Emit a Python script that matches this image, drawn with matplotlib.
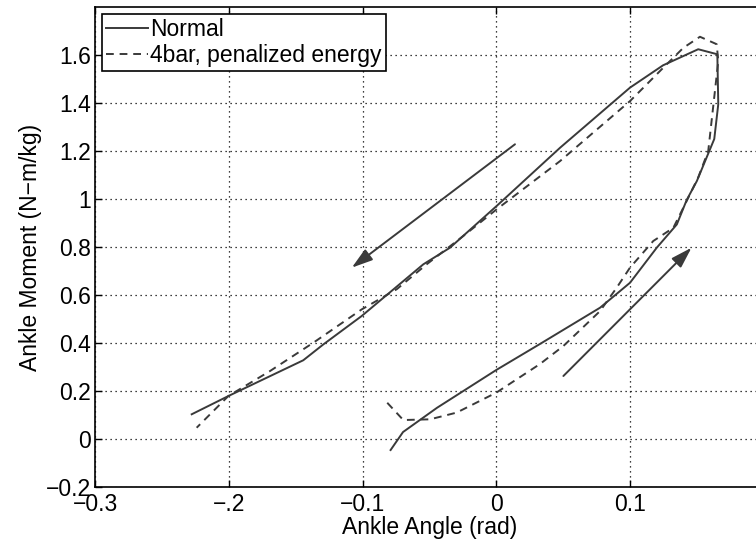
import matplotlib
matplotlib.use("Agg")
import matplotlib.pyplot as plt

plt.rcParams['font.family'] = ['Liberation Sans', 'DejaVu Sans']

# Normal gait (solid)
normal_x = [-0.079, -0.0697, -0.0443, 0.0, 0.0327, 0.0776, 0.100, 0.120, 0.135, 0.1424,
            0.150, 0.163, 0.166, 0.1653, 0.151, 0.1247, 0.100, 0.0478, 0.0003, -0.0346,
            -0.0545, -0.1006, -0.1293, -0.1443, -0.2003, -0.2277]
normal_y = [-0.046, 0.029, 0.13, 0.2875, 0.396, 0.547, 0.651, 0.797, 0.894, 0.996,
            1.075, 1.25, 1.395, 1.603, 1.624, 1.557, 1.464, 1.214, 0.971, 0.797,
            0.728, 0.5125, 0.394, 0.328, 0.179, 0.103]

# 4bar, penalized energy (dashed)
bar_x = [-0.0815, -0.0695, -0.0495, -0.0296, 0.0, 0.0327, 0.0502, 0.0776, 0.090, 0.100,
         0.1174, 0.1324, 0.1424, 0.151, 0.1585, 0.166, 0.1648, 0.1523, 0.1399, 0.1274,
         0.100, 0.0477, 0.0003, -0.0246, -0.052, -0.0744, -0.1006, -0.1368, -0.1692,
         -0.2003, -0.224]
bar_y = [0.151, 0.079, 0.082, 0.11, 0.193, 0.3125, 0.3875, 0.533, 0.63, 0.714,
         0.825, 0.88, 0.992, 1.09, 1.2, 1.575, 1.645, 1.676, 1.63, 1.561,
         1.408, 1.158, 0.957, 0.846, 0.728, 0.624, 0.54, 0.401, 0.283,
         0.179, 0.047]

# direction arrows: (tail, head)
arrow_down = ((0.014, 1.228), (-0.108, 0.714))
arrow_up = ((0.0502, 0.2625), (0.146, 0.797))

xticks = [-0.3, -0.2, -0.1, 0, 0.1, 0.2]
xticklabels = ['\u22120.3', '\u2212.2', '\u22120.1', '0', '0.1', '']
yticks = [-0.2, 0, 0.2, 0.4, 0.6, 0.8, 1.0, 1.2, 1.4, 1.6]
yticklabels = ['\u22120.2', '0', '0.2', '0.4', '0.6', '0.8', '1', '1.2', '1.4', '1.6']

col = '#3a3a3a'
fig = plt.figure(figsize=(7.56, 5.47), dpi=100)
ax = fig.add_axes([95 / 756, 1 - 487 / 547, (763.75 - 95) / 756, 480 / 547])

ax.plot(normal_x, normal_y, '-', color=col, lw=1.4, label='Normal')
ax.plot(bar_x, bar_y, '--', color=col, lw=1.4, dashes=(4, 3), label='4bar, penalized energy')

for tail, head in (arrow_down, arrow_up):
    ax.annotate('', xy=head, xytext=tail,
                arrowprops=dict(arrowstyle='-|>,head_length=0.8,head_width=0.25', color=col,
                                lw=1.4, mutation_scale=16, shrinkA=0, shrinkB=0))

ax.set_xlim(-0.3, 0.2)
ax.set_ylim(-0.2, 1.8)
ax.set_xticks(xticks)
ax.set_xticklabels(xticklabels)
ax.set_yticks(yticks)
ax.set_yticklabels(yticklabels)
ax.tick_params(direction='in', length=5, width=1, labelsize=16.5, top=True, right=True, pad=3)
ax.tick_params(axis='x', pad=4)
ax.grid(True, color='black', linestyle=(0, (1, 3)), linewidth=0.9)
for s in ax.spines.values():
    s.set_linewidth(1.2)

ax.set_xlabel('Ankle Angle (rad)', fontsize=16.5, labelpad=0)
ax.set_ylabel('Ankle Moment (N\u2212m/kg)', fontsize=16.5, labelpad=3)

leg = ax.legend(loc='upper left', fontsize=16.5, handlelength=1.8, handletextpad=0.1,
                borderpad=0.2, labelspacing=0.1, borderaxespad=0.3, fancybox=False,
                framealpha=1)
leg.get_frame().set_edgecolor('black')
leg.get_frame().set_linewidth(1.2)

fig.savefig('out.png', dpi=100)
